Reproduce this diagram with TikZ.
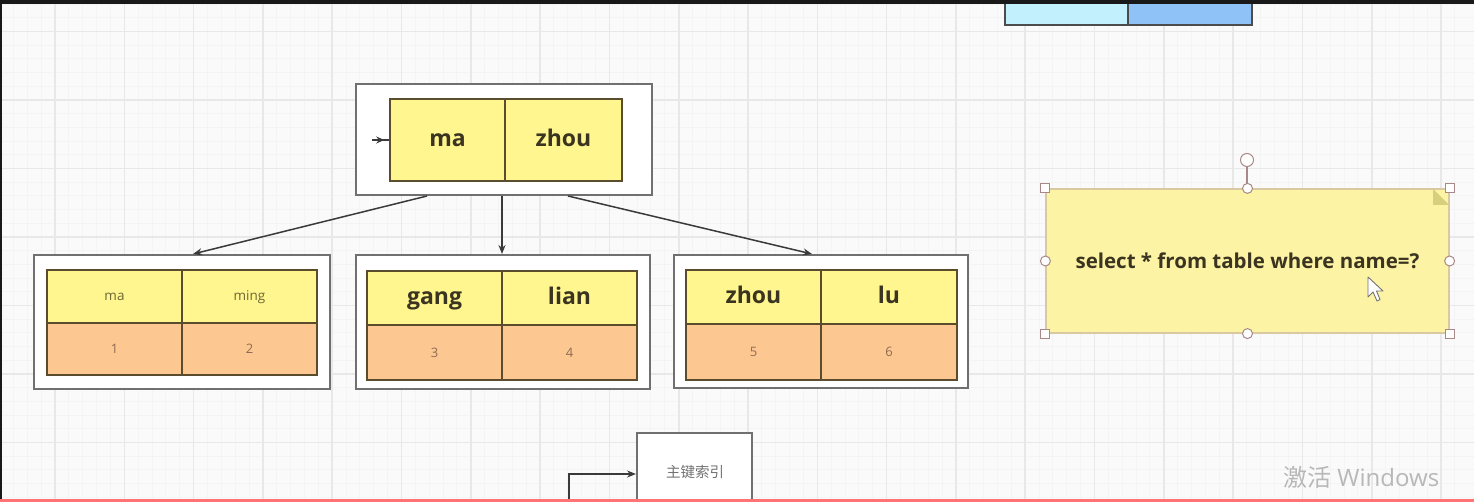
\documentclass[tikz,border=0pt]{standalone}
\usepackage{fontspec}
\setmainfont{Open Sans}
\newfontfamily\cjk{Noto Sans CJK SC}
\usetikzlibrary{arrows.meta}
\definecolor{keyfill}{HTML}{FFF68F}
\definecolor{valfill}{HTML}{FDC791}
\definecolor{cellline}{HTML}{5A4C2C}
\definecolor{outerline}{HTML}{707070}
\definecolor{keytext}{HTML}{3A3420}
\definecolor{smalltext}{HTML}{6E6634}
\definecolor{numtext}{HTML}{8E6C52}
\definecolor{notefill}{HTML}{FCF3A4}
\definecolor{noteline}{HTML}{D8C9A0}
\definecolor{fold}{HTML}{D8CF7C}
\definecolor{handle}{HTML}{A88888}
\definecolor{gridmajor}{HTML}{E8E8E8}
\definecolor{gridminor}{HTML}{F4F4F4}
\definecolor{cyanbox}{HTML}{C2F0FC}
\definecolor{bluebox}{HTML}{8FC2F6}
\definecolor{arrowline}{HTML}{3A3A3A}
\tikzset{
  outerbox/.style={draw=outerline,line width=2pt,fill=white,inner sep=0pt},
  keycell/.style={draw=cellline,line width=1.5pt,fill=keyfill,inner sep=0pt,text=keytext,font=\bfseries\fontsize{23}{26}\selectfont,text height=17pt,text depth=4.5pt},
  smallkey/.style={draw=cellline,line width=1.5pt,fill=keyfill,inner sep=0pt,text=smalltext,font=\fontsize{13.5}{15}\selectfont,text height=10pt,text depth=2.8pt},
  valcell/.style={draw=cellline,line width=1.5pt,fill=valfill,inner sep=0pt,text=numtext,font=\fontsize{13}{15}\selectfont},
  link/.style={draw=arrowline,line width=1.5pt,-{Stealth[length=9pt,width=7pt]}},
  sqhandle/.style={draw=handle,line width=1pt,fill=white,minimum size=9pt,inner sep=0pt},
  cirhandle/.style={draw=handle,line width=1pt,fill=white,circle,minimum size=10pt,inner sep=0pt},
}
\newcommand\cellbox[7]{\node[#6,minimum width={(#4-#2)*1pt},minimum height={(#5-#3)*1pt}] (#1) at ({(#2+#4)/2},{(#3+#5)/2}) {#7};}
\begin{document}
\begin{tikzpicture}[x=1pt,y=-1pt]
\useasboundingbox (0,0) rectangle (1474,502);
\fill[white!98!black] (0,0) rectangle (1474,502);
% grid
\foreach \k in {-4,...,101} {\draw[gridminor,line width=1pt] ({55+13.86*\k},0) -- ({55+13.86*\k},502);}
\foreach \k in {-3,...,34} {\draw[gridminor,line width=1pt] (0,{31.5+13.7*\k}) -- (1474,{31.5+13.7*\k});}
\foreach \k in {-1,...,20} {\draw[gridmajor,line width=1.6pt] ({55+69.3*\k},0) -- ({55+69.3*\k},502);}
\foreach \k in {-1,...,7} {\draw[gridmajor,line width=1.6pt] (0,{31.5+68.5*\k}) -- (1474,{31.5+68.5*\k});}
% top blue boxes
\cellbox{topa}{1005}{-3}{1128}{25}{draw=black!70,line width=2pt,fill=cyanbox,inner sep=0pt}{}
\cellbox{topb}{1128}{-3}{1252}{25}{draw=black!70,line width=2pt,fill=bluebox,inner sep=0pt}{}
% root node
\cellbox{root}{356}{84}{652}{195}{outerbox}{}
\cellbox{rma}{390}{99}{505}{181}{keycell}{ma}
\cellbox{rzhou}{505}{99}{622}{181}{keycell}{zhou}
\coordinate (rin) at (372,140);
\draw[draw=arrowline,line width=1.5pt] (rin) -- (rma.west);
\draw[draw=arrowline,line width=1.5pt,-{Stealth[length=8pt,width=7pt]},shorten >=5pt] (rin) -- (rma.west);
% left leaf
\cellbox{leafa}{34}{255}{330}{389}{outerbox}{}
\cellbox{ka1}{47}{270}{182}{323}{smallkey}{ma}
\cellbox{ka2}{182}{270}{317}{323}{smallkey}{ming}
\cellbox{va1}{47}{323}{182}{375}{valcell}{1}
\cellbox{va2}{182}{323}{317}{375}{valcell}{2}
% middle leaf
\cellbox{leafb}{356}{255}{650}{389}{outerbox}{}
\cellbox{kb1}{367}{271}{502}{325}{keycell}{gang}
\cellbox{kb2}{502}{271}{637}{325}{keycell}{lian}
\cellbox{vb1}{367}{325}{502}{380}{valcell}{3}
\cellbox{vb2}{502}{325}{637}{380}{valcell}{4}
% right leaf
\cellbox{leafc}{674}{255}{968}{388}{outerbox}{}
\cellbox{kc1}{686}{270}{821}{324}{keycell}{zhou}
\cellbox{kc2}{821}{270}{957}{324}{keycell}{lu}
\cellbox{vc1}{686}{324}{821}{380}{valcell}{5}
\cellbox{vc2}{821}{324}{957}{380}{valcell}{6}
% arrows root -> leaves
\draw[link] ([xshift=-77pt]root.south) -- ([xshift=11pt]leafa.north);
\draw[link] ([xshift=-2pt]root.south) -- ([xshift=-1pt]leafb.north);
\draw[link] ([xshift=64pt]root.south) -- ([xshift=-9pt]leafc.north);
% note
\cellbox{note}{1046}{189}{1449}{333}{draw=noteline,line width=1.2pt,fill=notefill,inner sep=0pt,text=keytext,font=\bfseries\fontsize{20.5}{23}\selectfont}{select * from table where name=?}
\fill[fold] (1433,189) -- (1449,205) -- (1433,205) -- cycle;
\draw[handle,line width=1.4pt] (1247,166) -- (1247,189);
\node[cirhandle,minimum size=13pt] (rot) at (1247,160) {};
\node[sqhandle] (h1) at (note.north west) {};
\node[sqhandle] (h2) at (note.north east) {};
\node[sqhandle] (h3) at (note.south west) {};
\node[sqhandle] (h4) at (note.south east) {};
\node[cirhandle] (h5) at (note.north) {};
\node[cirhandle] (h6) at (note.south) {};
\node[cirhandle] (h7) at (note.west) {};
\node[cirhandle] (h8) at (note.east) {};
% cursor
\draw[draw=black!55,fill=white,line width=0.9pt,line join=round]
  (1368,277) -- (1368,297) -- (1373,292) -- (1377,301) -- (1380,299.5) -- (1376.5,291) -- (1383,291) -- cycle;
% bottom box
\cellbox{pk}{637}{433}{752}{520}{draw=outerline,line width=2pt,fill=white,inner sep=0pt}{}
\node[text=black!55,font=\cjk\fontsize{14.5}{16}\selectfont] (pkt) at (695,472) {主键索引};
\coordinate (pkin) at (569,505);
\draw[draw=arrowline,line width=2pt,-{Stealth[length=9pt,width=7pt]}] (pkin) |- (pk.west |- 0,474);
% watermark
\node[text=black!28,font=\fontsize{24}{26}\selectfont,anchor=west,inner sep=0pt] (wm) at (1283,477) {{\cjk 激活} Windows};
% frame
\fill[black!90] (0,0) rectangle (1474,4);
\fill[black!90] (0,0) rectangle (2,502);
\fill[red!55!white] (0,498.5) rectangle (1474,502);
\end{tikzpicture}
\end{document}
